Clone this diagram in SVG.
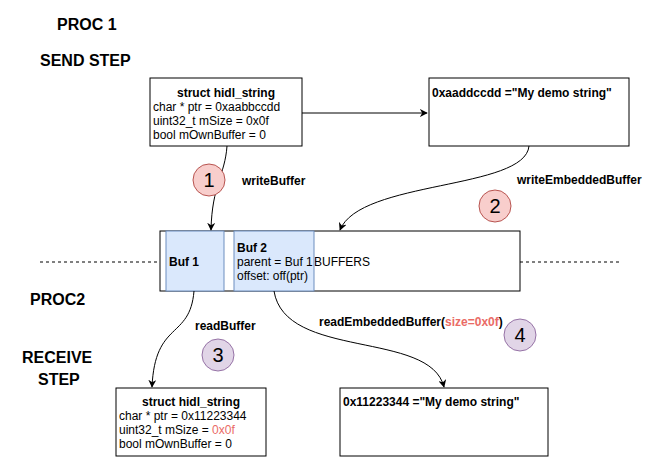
<svg xmlns="http://www.w3.org/2000/svg" width="665" height="457" viewBox="0 0 665 457">
<defs>
<style>
text{font-family:"Liberation Sans",Arial,sans-serif;font-size:12px;fill:#000}
.b{font-weight:bold}
.t{font-weight:bold;font-size:16px}
.box{fill:#fff;stroke:#000;stroke-width:1}
.buf{fill:#dae8fc;stroke:#6c8ebf;stroke-width:1}
.c1{fill:#f8cecc;stroke:#b85450}
.c2{fill:#e1d5e7;stroke:#9673a6}
.n{font-size:20px}
.e{fill:none;stroke:#000;stroke-width:1}
.red{fill:#ea6b66}
</style>
<marker id="a" viewBox="0 0 10 10" refX="9" refY="5" markerWidth="8" markerHeight="8" orient="auto"><path d="M0,0L10,5L0,10L3,5z" fill="#000"/></marker>
</defs>
<rect width="665" height="457" fill="#fff"/>
<text class="t" x="57" y="30">PROC 1</text>
<text class="t" x="40" y="66">SEND STEP</text>
<text class="t" x="30" y="305">PROC2</text>
<text class="t" x="22" y="363">RECEIVE</text>
<text class="t" x="38" y="385">STEP</text>
<g id="dash"><path d="M40,262H160M520,262H622" stroke="#000" stroke-dasharray="3,3"/></g>
<g id="send-struct"><rect class="box" x="150" y="78" width="152" height="68"/>
<text class="b" x="226" y="97" text-anchor="middle">struct hidl_string</text>
<text x="153" y="111">char * ptr = 0xaabbccdd</text>
<text x="153" y="125">uint32_t mSize = 0x0f</text>
<text x="153" y="139">bool mOwnBuffer = 0</text></g>
<g id="send-str"><rect class="box" x="429" y="78" width="200" height="68"/>
<text class="b" x="432" y="97">0xaaddccdd ="My demo string"</text></g>
<g id="buffers"><rect class="box" x="160" y="231" width="360" height="60"/>
<text x="314" y="266">BUFFERS</text></g>
<g id="buf1"><rect class="buf" x="166" y="231" width="58" height="60"/><text class="b" x="169" y="266">Buf 1</text></g>
<g id="buf2"><rect class="buf" x="234" y="231" width="80" height="60"/>
<text class="b" x="237" y="252">Buf 2</text><text x="237" y="266">parent = Buf 1</text><text x="237" y="280">offset: off(ptr)</text></g>
<g id="recv-struct"><rect class="box" x="116" y="388" width="150" height="68"/>
<text class="b" x="191" y="406" text-anchor="middle">struct hidl_string</text>
<text x="119" y="420">char * ptr = 0x11223344</text>
<text x="119" y="434">uint32_t mSize = <tspan class="red">0x0f</tspan></text>
<text x="119" y="448">bool mOwnBuffer = 0</text></g>
<g id="recv-str"><rect class="box" x="340" y="388" width="208" height="68"/>
<text class="b" x="343" y="406">0x11223344 ="My demo string"</text></g>
<g id="connectors">
<path class="e" d="M302,113H427" marker-end="url(#a)"/>
<path class="e" d="M227,146C225,175 212,185 211,230" marker-end="url(#a)"/>
<path class="e" d="M529,146C525,190 360,180 340,230" marker-end="url(#a)"/>
<path class="e" d="M194,291C190,340 155,320 152,387" marker-end="url(#a)"/>
<path class="e" d="M274,291C285,360 430,330 444,387" marker-end="url(#a)"/>
</g>
<text class="b" x="242" y="185">writeBuffer</text>
<text class="b" x="517" y="184">writeEmbeddedBuffer</text>
<text class="b" x="195" y="330">readBuffer</text>
<text class="b" x="319" y="326">readEmbeddedBuffer(<tspan class="red">size=0x0f</tspan>)</text>
<g id="n1"><circle class="c1" cx="209" cy="180" r="16"/><text class="n" x="209" y="187" text-anchor="middle">1</text></g>
<g id="n2"><circle class="c1" cx="495" cy="206" r="16"/><text class="n" x="495" y="213" text-anchor="middle">2</text></g>
<g id="n3"><circle class="c2" cx="218" cy="355" r="16"/><text class="n" x="218" y="362" text-anchor="middle">3</text></g>
<g id="n4"><circle class="c2" cx="520" cy="335" r="16"/><text class="n" x="520" y="342" text-anchor="middle">4</text></g>
</svg>
